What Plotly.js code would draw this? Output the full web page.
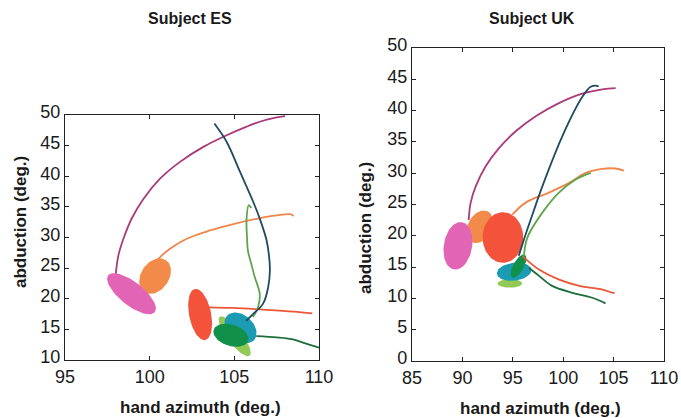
<!DOCTYPE html>
<html>
<head>
<meta charset="utf-8">
<script src="https://cdn.plot.ly/plotly-3.0.1.min.js"></script>
<style>html,body{margin:0;padding:0;background:#fff;}#chart{width:681px;height:418px;}</style>
</head>
<body>
<div id="chart"></div>
<script>
// ---------- Subject ES : trajectories ----------
const esMagentaX = [98.0, 98.15, 98.45, 98.94, 99.63, 100.61, 101.79, 103.17, 104.55, 105.73, 106.5, 107.3, 108.0];
const esMagentaY = [24.1, 27.05, 29.8, 33.1, 36.3, 39.6, 42.35, 44.8, 46.7, 48.1, 48.9, 49.5, 49.8];
const esOrangeX = [100.45, 100.55, 101.2, 102.19, 103.56, 104.94, 106.32, 107.5, 108.3, 108.5];
const esOrangeY = [26.2, 26.6, 28.15, 29.8, 31.15, 32.2, 33.05, 33.6, 33.8, 33.5];
const esNavyX = [103.82, 104.55, 105.34, 106.12, 106.5, 106.9, 107.05, 107.1, 107.0, 106.7, 106.1, 105.7];
const esNavyY = [48.6, 45.6, 40.7, 35.8, 33.1, 29.6, 27.0, 24.6, 21.9, 19.2, 17.5, 16.4];
const esGreenX = [106.0, 105.85, 105.72, 105.75, 105.8, 106.0, 106.2, 106.5, 106.4, 106.1];
const esGreenY = [34.8, 35.3, 33.0, 30.0, 27.9, 25.7, 23.6, 20.8, 18.6, 17.0];
const esRedX = [103.5, 104.9, 106.9, 108.5, 109.6];
const esRedY = [18.6, 18.5, 18.2, 17.9, 17.6];
const esDkGreenX = [106.3, 107.5, 108.4, 109.2, 109.9, 110.0];
const esDkGreenY = [13.9, 13.7, 13.4, 12.7, 12.1, 12.0];

// ---------- Subject ES : variability ellipses (centre, semi-axis vectors u, v) ----------
const esEllName = ["orange", "magenta", "red", "lightgreen", "teal", "darkgreen"];
const esEllCx = [100.32, 98.93, 102.98, 105.02, 105.37, 104.80];
const esEllCy = [23.7, 20.82, 17.43, 13.88, 15.25, 14.04];
const esEllUx = [0.648, 1.375, -0.306, 0.884, 0.806, 1.02];
const esEllUy = [2.60, -3.0, 4.175, -3.17, -1.967, -0.90];
const esEllVx = [0.676, 0.425, 0.635, 0.342, 0.491, 0.189];
const esEllVy = [-1.306, 1.50, 0.361, 0.738, 1.557, 1.66];

// ---------- Subject UK : trajectories ----------
const ukMagentaX = [90.62, 90.82, 91.32, 92.31, 93.63, 95.29, 97.27, 99.58, 101.9, 103.88, 105.2];
const ukMagentaY = [22.5, 25.3, 27.9, 31.1, 34.0, 36.7, 39.1, 41.2, 42.7, 43.4, 43.6];
const ukNavyX = [95.6, 96.0, 96.95, 97.93, 99.91, 101.9, 102.73, 103.39, 103.5];
const ukNavyY = [16.8, 18.9, 23.4, 27.9, 35.9, 42.2, 43.8, 43.95, 43.8];
const ukOrangeX = [94.95, 96.28, 98.59, 100.58, 102.23, 103.88, 105.2, 106.03];
const ukOrangeY = [23.4, 25.3, 26.9, 28.45, 30.05, 30.7, 30.75, 30.4];
const ukGreenX = [96.1, 96.44, 97.93, 99.58, 101.24, 102.73];
const ukGreenY = [16.7, 19.7, 23.7, 26.9, 29.0, 30.05];
const ukRedX = [95.96, 97.6, 99.6, 101.6, 103.9, 104.9, 105.1];
const ukRedY = [16.75, 14.6, 13.0, 12.0, 11.4, 10.9, 10.9];
const ukDkGreenX = [96.6, 97.6, 98.9, 100.9, 102.9, 104.2];
const ukDkGreenY = [14.9, 13.6, 12.0, 10.9, 10.1, 9.2];

// ---------- Subject UK : variability ellipses ----------
const ukEllName = ["orange", "magenta", "red", "lightgreen", "teal", "darkgreen"];
const ukEllCx = [91.74, 89.56, 94.02, 94.71, 95.14, 95.57];
const ukEllCy = [21.44, 18.4, 19.73, 12.39, 14.26, 15.16];
const ukEllUx = [0.773, 0.396, 0.0, 1.22, 1.717, 0.627];
const ukEllUy = [2.463, 3.777, 4.04, 0.0, 0.25, 1.809];
const ukEllVx = [1.057, 1.387, 2.015, 0.0, 0.0, 0.462];
const ukEllVy = [-0.862, -0.372, 0.0, 0.69, 1.436, -0.415];

// ---------- tick labels ----------
const esXTicks = [95, 100, 105, 110];
const ukXTicks = [85, 90, 95, 100, 105, 110];
const esYTicks = [10, 15, 20, 25, 30, 35, 40, 45, 50];
const ukYTicks = [0, 5, 10, 15, 20, 25, 30, 35, 40, 45, 50];

// ---------- styles ----------
const ellColor = {
  orange: "#f28a4a", magenta: "#e264b4", red: "#f2533a",
  lightgreen: "#92c957", teal: "#1b9cb2", darkgreen: "#11904a"
};
const lineColor = {
  magenta: "#a93a7c", orange: "#f0854a", navy: "#1f4a63",
  green: "#5ea54c", red: "#ea5636", dkgreen: "#1f6c3c"
};

function ellipseTrace(cx, cy, ux, uy, vx, vy, color, xa, ya) {
  const xs = [], ys = [];
  const n = 72;
  for (let i = 0; i <= n; i++) {
    const t = 2 * Math.PI * i / n;
    xs.push(cx + ux * Math.cos(t) + vx * Math.sin(t));
    ys.push(cy + uy * Math.cos(t) + vy * Math.sin(t));
  }
  return {x: xs, y: ys, xaxis: xa, yaxis: ya, type: "scatter", mode: "lines",
    fill: "toself", fillcolor: color, line: {width: 0, color: color}, hoverinfo: "skip", showlegend: false};
}
function lineTrace(x, y, color, xa, ya) {
  return {x: x, y: y, xaxis: xa, yaxis: ya, type: "scatter", mode: "lines",
    line: {color: color, width: 1.8, shape: "spline", smoothing: 1}, showlegend: false};
}

const traces = [];
for (let i = 0; i < esEllName.length; i++) {
  traces.push(ellipseTrace(esEllCx[i], esEllCy[i], esEllUx[i], esEllUy[i], esEllVx[i], esEllVy[i], ellColor[esEllName[i]], "x", "y"));
}
traces.push(lineTrace(esMagentaX, esMagentaY, lineColor.magenta, "x", "y"));
traces.push(lineTrace(esOrangeX, esOrangeY, lineColor.orange, "x", "y"));
traces.push(lineTrace(esRedX, esRedY, lineColor.red, "x", "y"));
traces.push(lineTrace(esGreenX, esGreenY, lineColor.green, "x", "y"));
traces.push(lineTrace(esNavyX, esNavyY, lineColor.navy, "x", "y"));
traces.push(lineTrace(esDkGreenX, esDkGreenY, lineColor.dkgreen, "x", "y"));

for (let i = 0; i < ukEllName.length; i++) {
  traces.push(ellipseTrace(ukEllCx[i], ukEllCy[i], ukEllUx[i], ukEllUy[i], ukEllVx[i], ukEllVy[i], ellColor[ukEllName[i]], "x2", "y2"));
}
traces.push(lineTrace(ukMagentaX, ukMagentaY, lineColor.magenta, "x2", "y2"));
traces.push(lineTrace(ukOrangeX, ukOrangeY, lineColor.orange, "x2", "y2"));
traces.push(lineTrace(ukRedX, ukRedY, lineColor.red, "x2", "y2"));
traces.push(lineTrace(ukGreenX, ukGreenY, lineColor.green, "x2", "y2"));
traces.push(lineTrace(ukNavyX, ukNavyY, lineColor.navy, "x2", "y2"));
traces.push(lineTrace(ukDkGreenX, ukDkGreenY, lineColor.dkgreen, "x2", "y2"));

const tickFont = {family: "Liberation Sans, Arial, sans-serif", size: 18, color: "#1a1a1a"};
function axis(domain, range, ticks, anchor, standoff, shift) {
  return {domain: domain, range: range, anchor: anchor, tickvals: ticks, ticktext: ticks.map(String),
    showgrid: false, zeroline: false, showline: true, linecolor: "#222", linewidth: 1.2, mirror: "ticks",
    ticks: "inside", ticklen: 4, tickcolor: "#222", tickwidth: 1, tickfont: tickFont,
    ticklabelstandoff: standoff, ticklabelshift: shift, fixedrange: true};
}

const W = 681, H = 418;
const layout = {
  width: W, height: H, margin: {l: 0, r: 0, t: 0, b: 0},
  paper_bgcolor: "#fff", plot_bgcolor: "#fff", showlegend: false,
  xaxis: axis([65 / W, 319 / W], [95, 110], esXTicks, "y", 0, 0),
  yaxis: axis([1 - 360 / H, 1 - 115 / H], [10, 50], esYTicks, "x", 0, -3),
  xaxis2: axis([412 / W, 664 / W], [85, 110], ukXTicks, "y2", 0, 0),
  yaxis2: axis([1 - 361 / H, 1 - 48 / H], [0, 50], ukYTicks, "x2", 0, -3),
  annotations: [
    {text: "<b>Subject ES</b>", x: 190 / W, y: 1 - 18 / H, xref: "paper", yref: "paper", showarrow: false,
      xanchor: "center", yanchor: "middle", font: {family: "Liberation Sans, Arial, sans-serif", size: 16, color: "#1a1a1a"}},
    {text: "<b>Subject UK</b>", x: 532 / W, y: 1 - 18 / H, xref: "paper", yref: "paper", showarrow: false,
      xanchor: "center", yanchor: "middle", font: {family: "Liberation Sans, Arial, sans-serif", size: 16, color: "#1a1a1a"}},
    {text: "<b>hand azimuth (deg.)</b>", x: 200 / W, y: 1 - 407 / H, xref: "paper", yref: "paper", showarrow: false,
      xanchor: "center", yanchor: "middle", font: {family: "Liberation Sans, Arial, sans-serif", size: 17, color: "#1a1a1a"}},
    {text: "<b>hand azimuth (deg.)</b>", x: 540 / W, y: 1 - 408 / H, xref: "paper", yref: "paper", showarrow: false,
      xanchor: "center", yanchor: "middle", font: {family: "Liberation Sans, Arial, sans-serif", size: 17, color: "#1a1a1a"}},
    {text: "<b>abduction (deg.)</b>", x: 20 / W, y: 1 - 222 / H, xref: "paper", yref: "paper", showarrow: false,
      textangle: -90, xanchor: "center", yanchor: "middle", font: {family: "Liberation Sans, Arial, sans-serif", size: 17, color: "#1a1a1a"}},
    {text: "<b>abduction (deg.)</b>", x: 366 / W, y: 1 - 228 / H, xref: "paper", yref: "paper", showarrow: false,
      textangle: -90, xanchor: "center", yanchor: "middle", font: {family: "Liberation Sans, Arial, sans-serif", size: 17, color: "#1a1a1a"}}
  ]
};

Plotly.newPlot("chart", traces, layout, {displayModeBar: false, staticPlot: true});
</script>
</body>
</html>
